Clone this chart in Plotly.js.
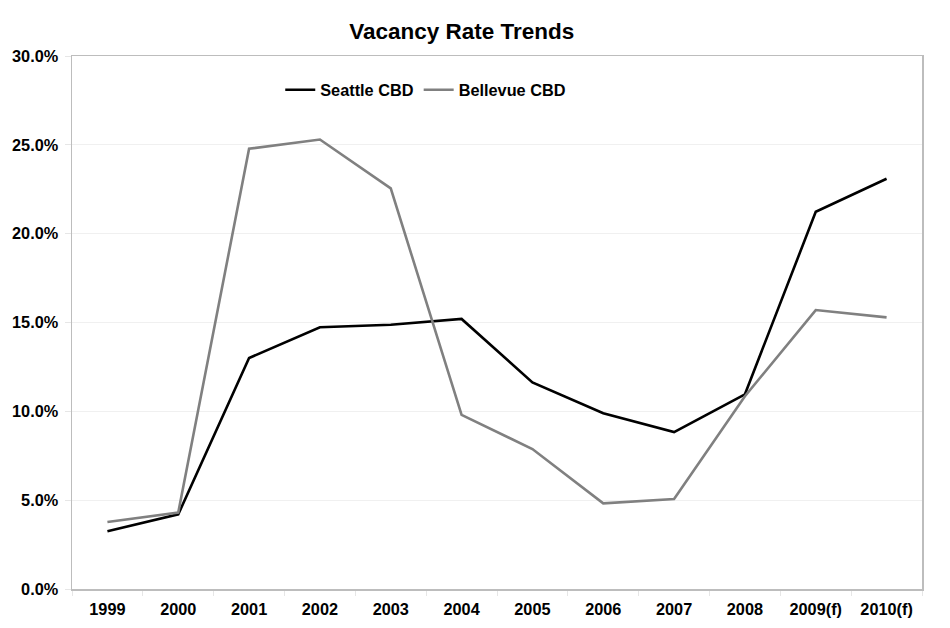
<!DOCTYPE html>
<html>
<head>
<meta charset="utf-8">
<script src="https://cdn.plot.ly/plotly-3.0.1.min.js"></script>
<style>
html,body{margin:0;padding:0;background:#fff;}
#chart{width:950px;height:628px;}
</style>
</head>
<body>
<div id="chart"></div>
<script>
const years = ["1999","2000","2001","2002","2003","2004","2005","2006","2007","2008","2009(f)","2010(f)"];
const seattleCBD = [3.25, 4.2, 13.0, 14.73, 14.87, 15.2, 11.63, 9.89, 8.83, 10.96, 21.23, 23.09];
const bellevueCBD = [3.77, 4.3, 24.78, 25.3, 22.55, 9.8, 7.88, 4.82, 5.06, 10.85, 15.7, 15.29];
const yTicks = [0, 5, 10, 15, 20, 25, 30];

const font = "Liberation Sans, Arial, sans-serif";
const traces = [
  {x: years, y: seattleCBD, name: "Seattle CBD", type: "scatter", mode: "lines",
   line: {color: "#000000", width: 2.6}},
  {x: years, y: bellevueCBD, name: "Bellevue CBD", type: "scatter", mode: "lines",
   line: {color: "#808080", width: 2.6}}
];
const layout = {
  width: 950, height: 628,
  paper_bgcolor: "#ffffff", plot_bgcolor: "#ffffff",
  margin: {l: 72, r: 28, t: 56, b: 39},
  font: {family: font, color: "#000", size: 16},
  title: {text: "<b>Vacancy Rate Trends</b>", font: {family: font, size: 22.5, color: "#000"},
          x: 0.486, xanchor: "center", y: 0.951, yanchor: "middle"},
  showlegend: true,
  legend: {orientation: "h", x: 0.245, y: 0.936, xanchor: "left", yanchor: "middle",
           bgcolor: "rgba(0,0,0,0)", font: {family: font, size: 16.3, color: "#000", weight: "bold"},
           itemwidth: 30, tracegroupgap: 0},
  xaxis: {type: "category", range: [-0.5, 11.5], showgrid: false,
          showline: true, linecolor: "#bdbdbd", linewidth: 1.5, mirror: true,
          ticks: "outside", tickson: "boundaries", ticklen: 5, tickcolor: "#e6e6e6",
          ticklabelstandoff: 5,
          tickfont: {family: font, size: 16.3, color: "#000", weight: "bold"},
          fixedrange: true},
  yaxis: {range: [0, 30], tickvals: yTicks, ticktext: yTicks.map(v => v.toFixed(1) + "%"),
          showgrid: true, gridcolor: "#f0f0f0", gridwidth: 1,
          showline: true, linecolor: "#bdbdbd", linewidth: 1.5, mirror: true,
          zeroline: false, ticks: "outside", ticklen: 6, tickcolor: "#e6e6e6",
          ticklabelstandoff: 3,
          tickfont: {family: font, size: 16.3, color: "#000", weight: "bold"},
          fixedrange: true}
};
Plotly.newPlot("chart", traces, layout, {displayModeBar: false, staticPlot: true});
</script>
</body>
</html>
